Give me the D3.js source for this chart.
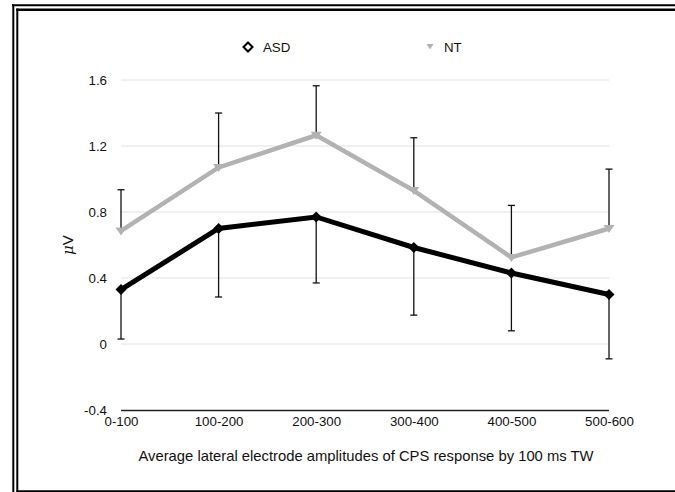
<!DOCTYPE html>
<html>
<head>
<meta charset="utf-8">
<script src="https://cdn.jsdelivr.net/npm/d3@7"></script>
<style>
  html, body { margin: 0; padding: 0; background: #fff; }
  svg { display: block; }
  text { font-family: "Liberation Sans", Arial, Helvetica, sans-serif; fill: #111; }
</style>
</head>
<body>
<svg id="chart" width="675" height="492"></svg>
<script>
const categories = ["0-100", "100-200", "200-300", "300-400", "400-500", "500-600"];
const asdValues = [0.33, 0.70, 0.77, 0.585, 0.43, 0.30];
const asdErrors = [0.30, 0.415, 0.40, 0.41, 0.35, 0.39];
const ntValues  = [0.685, 1.07, 1.265, 0.93, 0.525, 0.70];
const ntErrors  = [0.25, 0.33, 0.30, 0.32, 0.315, 0.36];
const yTicks = [-0.4, 0, 0.4, 0.8, 1.2, 1.6];
const yTickLabels = ["-0.4", "0", "0.4", "0.8", "1.2", "1.6"];
const seriesNames = ["ASD", "NT"];
const xTitle = "Average lateral electrode amplitudes of CPS response by 100 ms TW";
const yTitle = "V";

const svg = d3.select("#chart");

// Frame (double border)
const frame = svg.append("g");
frame.append("line").attr("x1", 12).attr("x2", 675).attr("y1", 5.3).attr("y2", 5.3).attr("stroke", "#000").attr("stroke-width", 2);
frame.append("line").attr("x1", 13.3).attr("x2", 13.3).attr("y1", 4.3).attr("y2", 492).attr("stroke", "#000").attr("stroke-width", 2);
frame.append("line").attr("x1", 16.3).attr("x2", 675).attr("y1", 9.7).attr("y2", 9.7).attr("stroke", "#000").attr("stroke-width", 2.5);
frame.append("line").attr("x1", 17.3).attr("x2", 17.3).attr("y1", 8.5).attr("y2", 492).attr("stroke", "#000").attr("stroke-width", 2);
frame.append("line").attr("x1", 16.3).attr("x2", 675).attr("y1", 491.2).attr("y2", 491.2).attr("stroke", "#000").attr("stroke-width", 2);

const x = d3.scalePoint().domain(categories).range([121, 609]).padding(0);
const y = d3.scaleLinear().domain([-0.4, 1.6]).range([410, 80]);

// Gridlines
svg.append("g")
  .selectAll("line")
  .data(yTicks.filter(t => t > -0.4))
  .join("line")
  .attr("x1", 121).attr("x2", 609)
  .attr("y1", d => y(d)).attr("y2", d => y(d))
  .attr("stroke", "#e2e2e2").attr("stroke-width", 1);

// X axis
const xAxis = svg.append("g")
  .attr("transform", `translate(0,${y(-0.4)})`)
  .call(d3.axisBottom(x).tickSize(0).tickPadding(7));
xAxis.select(".domain").attr("stroke", "#222").attr("stroke-width", 1.4).attr("d", `M121,0.5H609`);
xAxis.selectAll("text").attr("font-size", 13.3).attr("fill", "#111")
  .attr("font-family", "'Liberation Sans', Arial, sans-serif");

// Y axis labels
const yAxis = svg.append("g")
  .attr("transform", `translate(107,0)`)
  .call(d3.axisLeft(y).tickValues(yTicks).tickFormat((d, i) => yTickLabels[i]).tickSize(0).tickPadding(0));
yAxis.select(".domain").remove();
yAxis.selectAll("text").attr("font-size", 13.3).attr("fill", "#111")
  .attr("font-family", "'Liberation Sans', Arial, sans-serif");

// Axis titles
svg.append("text")
  .attr("x", 366).attr("y", 461)
  .attr("text-anchor", "middle")
  .attr("font-size", 14.8)
  .text(xTitle);

const yt = svg.append("text")
  .attr("transform", "translate(73,245) rotate(-90)")
  .attr("text-anchor", "middle")
  .attr("font-size", 15);
yt.append("tspan").attr("font-style", "italic").attr("font-family", "'DejaVu Serif', serif").text("μ");
yt.append("tspan").text(yTitle);

const line = d3.line().x((d, i) => x(categories[i])).y(d => y(d));

// NT line
svg.append("path").datum(ntValues)
  .attr("d", line).attr("fill", "none")
  .attr("stroke", "#b2b2b2").attr("stroke-width", 4.5).attr("stroke-linejoin", "miter");

// ASD line
svg.append("path").datum(asdValues)
  .attr("d", line).attr("fill", "none")
  .attr("stroke", "#000").attr("stroke-width", 5).attr("stroke-linejoin", "miter");

// Error bars
function errorBars(values, errors, dir) {
  const g = svg.append("g");
  const data = values.map((v, i) => ({ c: categories[i], v, e: values[i] + dir * errors[i] }));
  g.selectAll("line.bar").data(data).join("line")
    .attr("x1", d => x(d.c)).attr("x2", d => x(d.c))
    .attr("y1", d => y(d.v)).attr("y2", d => y(d.e))
    .attr("stroke", "#111").attr("stroke-width", 1.3);
  g.selectAll("line.cap").data(data).join("line")
    .attr("x1", d => x(d.c) - 3.5).attr("x2", d => x(d.c) + 3.5)
    .attr("y1", d => y(d.e)).attr("y2", d => y(d.e))
    .attr("stroke", "#111").attr("stroke-width", 1.3);
}
errorBars(ntValues, ntErrors, 1);
errorBars(asdValues, asdErrors, -1);

// Markers
const diamond = "M0,-5.5L5.5,0L0,5.5L-5.5,0Z";
const tri = "M-5.5,-3.5L5.5,-3.5L0,4.5Z";
svg.append("g").selectAll("path").data(ntValues).join("path")
  .attr("d", tri)
  .attr("transform", (d, i) => `translate(${x(categories[i])},${y(d)})`)
  .attr("fill", "#b2b2b2");
svg.append("g").selectAll("path").data(asdValues).join("path")
  .attr("d", diamond)
  .attr("transform", (d, i) => `translate(${x(categories[i])},${y(d)})`)
  .attr("fill", "#000");

// Legend
const lg = svg.append("g");
lg.append("path").attr("d", "M0,-4.5L4.5,0L0,4.5L-4.5,0Z")
  .attr("transform", "translate(248,47)")
  .attr("fill", "#fff").attr("stroke", "#000").attr("stroke-width", 2);
lg.append("text").attr("x", 263).attr("y", 51.5).attr("font-size", 13.3).text(seriesNames[0]);
lg.append("path").attr("d", "M-3.5,-2.5L3.5,-2.5L0,3Z")
  .attr("transform", "translate(430,46.5)")
  .attr("fill", "#b2b2b2");
lg.append("text").attr("x", 444).attr("y", 51.5).attr("font-size", 13.3).text(seriesNames[1]);
</script>
</body>
</html>
